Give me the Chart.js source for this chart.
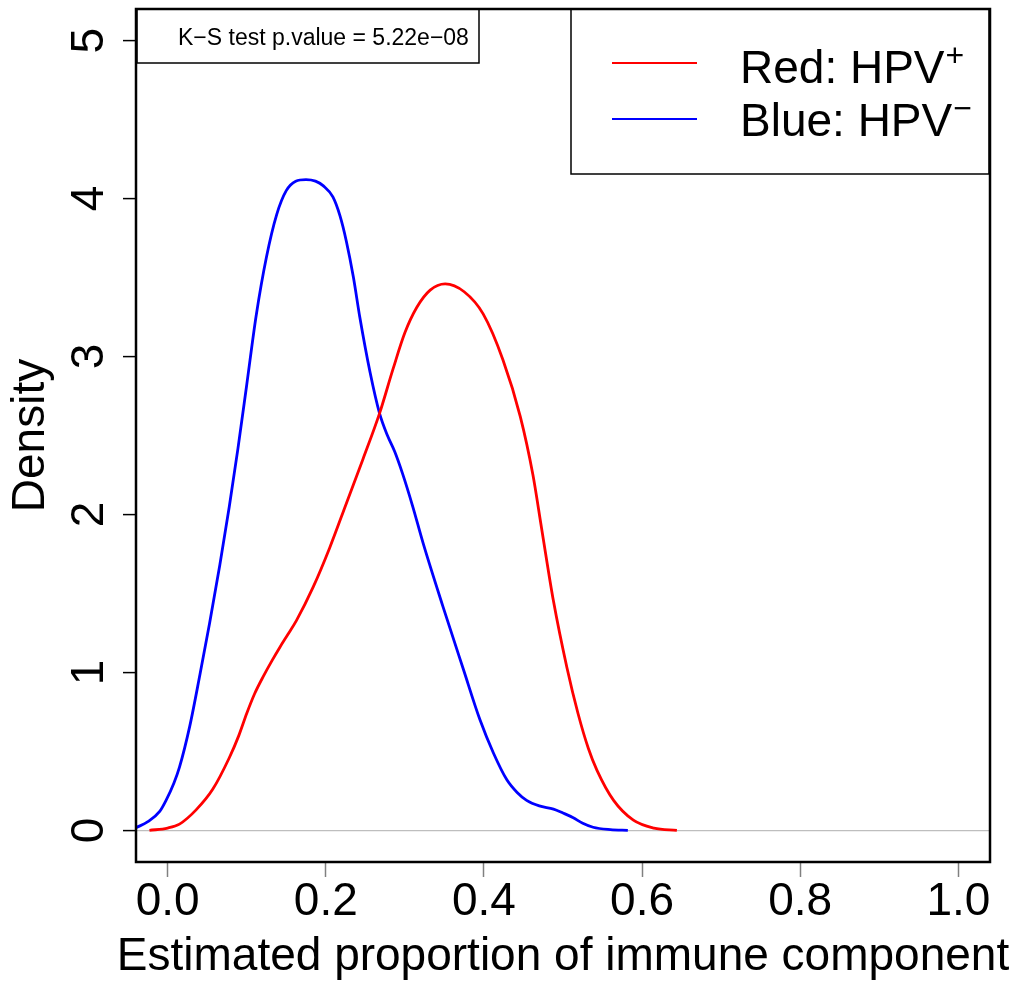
<!DOCTYPE html>
<html>
<head>
<meta charset="utf-8">
<script src="https://cdn.jsdelivr.net/npm/chart.js@4.4.1/dist/chart.umd.min.js"></script>
<style>
html, body { margin: 0; padding: 0; background: #fff; }
canvas { display: block; }
</style>
</head>
<body>
<canvas id="densityChart" width="1020" height="981"></canvas>
<script>
// --- Daten ---
const redX = [-0.023, 0.000, 0.015, 0.036, 0.057, 0.078, 0.090, 0.100, 0.110, 0.121, 0.132, 0.142, 0.152, 0.163, 0.184, 0.205, 0.226, 0.247, 0.268, 0.285, 0.300, 0.315, 0.332, 0.351, 0.375, 0.399, 0.424, 0.446, 0.462, 0.473, 0.488, 0.505, 0.519, 0.532, 0.543, 0.564, 0.589, 0.615, 0.644];
const redY = [0.00, 0.015, 0.04, 0.13, 0.26, 0.46, 0.60, 0.74, 0.865, 0.975, 1.075, 1.16, 1.24, 1.33, 1.54, 1.79, 2.07, 2.35, 2.64, 2.92, 3.15, 3.31, 3.42, 3.46, 3.41, 3.27, 2.98, 2.62, 2.25, 1.91, 1.45, 1.03, 0.74, 0.52, 0.38, 0.19, 0.065, 0.015, 0.00];

const blueX = [-0.040, -0.025, -0.010, -0.002, 0.008, 0.015, 0.028, 0.041, 0.053, 0.066, 0.078, 0.089, 0.100, 0.112, 0.125, 0.138, 0.150, 0.162, 0.175, 0.187, 0.197, 0.209, 0.218, 0.226, 0.235, 0.243, 0.256, 0.268, 0.278, 0.287, 0.297, 0.310, 0.323, 0.348, 0.374, 0.395, 0.412, 0.429, 0.442, 0.454, 0.470, 0.488, 0.500, 0.513, 0.525, 0.538, 0.560, 0.582];
const blueY = [0.017, 0.055, 0.12, 0.19, 0.30, 0.40, 0.66, 0.99, 1.31, 1.68, 2.05, 2.42, 2.82, 3.26, 3.63, 3.90, 4.05, 4.11, 4.12, 4.11, 4.08, 4.01, 3.89, 3.73, 3.50, 3.25, 2.90, 2.64, 2.50, 2.40, 2.26, 2.05, 1.82, 1.42, 1.02, 0.70, 0.49, 0.32, 0.24, 0.19, 0.155, 0.135, 0.11, 0.08, 0.045, 0.02, 0.005, 0.00];

const xTicks = [0, 0.2, 0.4, 0.6, 0.8, 1.0];
const xTickLabels = ['0.0', '0.2', '0.4', '0.6', '0.8', '1.0'];
const yTicks = [0, 1, 2, 3, 4, 5];
const yTickLabels = ['0', '1', '2', '3', '4', '5'];

const xTitle = 'Estimated proportion of immune component';
const legendNames = ['Red: HPV', 'Blue: HPV'];
const legendSups = ['+', '\u2212'];
const ksText = 'K\u2212S test p.value = 5.22e\u221208';

const FONT = '"Liberation Sans", Arial, Helvetica, sans-serif';
const RED = '#ff0000';
const BLUE = '#0000ff';

function toPoints(xs, ys) {
    return xs.map((x, i) => ({ x: x, y: ys[i] }));
}

// --- Rahmen, Beschriftungen, Legenden ---
const overlay = {
    id: 'overlay',
    afterDraw(chart) {
        const ctx = chart.ctx;
        const a = chart.chartArea;
        const ys = chart.scales.y;
        ctx.save();
        ctx.fillStyle = '#000';
        ctx.strokeStyle = '#000';

        // y tick labels, gedreht wie in R
        ctx.font = '46px ' + FONT;
        ctx.textAlign = 'center';
        ctx.textBaseline = 'alphabetic';
        yTicks.forEach((v, i) => {
            const py = ys.getPixelForValue(v);
            ctx.save();
            ctx.translate(a.left - 33, py);
            ctx.rotate(-Math.PI / 2);
            ctx.fillText(yTickLabels[i], 0, 0);
            ctx.restore();
        });

        // x-Achsentitel (breiter als die Achse, daher selbst gezeichnet)
        ctx.font = '46px ' + FONT;
        ctx.fillText(xTitle, (a.left + a.right) / 2, 970);

        // Plot-Box
        ctx.lineWidth = 2.5;
        ctx.strokeRect(a.left, a.top, a.right - a.left, a.bottom - a.top);

        // K-S Box
        ctx.lineWidth = 1.5;
        ctx.strokeRect(a.left + 1, a.top, 342, 54);
        ctx.font = '23px ' + FONT;
        ctx.textAlign = 'left';
        ctx.fillText(ksText, a.left + 42, a.top + 36);

        // Legende
        const lx = 571;
        ctx.lineWidth = 1.5;
        ctx.strokeRect(lx, a.top, a.right - lx - 1, 165);
        const lineY = [63, 119];
        const textY = [83, 136];
        chart.data.datasets.forEach((ds, i) => {
            ctx.strokeStyle = ds.borderColor;
            ctx.lineWidth = 2;
            ctx.beginPath();
            ctx.moveTo(612, lineY[i]);
            ctx.lineTo(697, lineY[i]);
            ctx.stroke();
            ctx.font = '46px ' + FONT;
            ctx.fillText(legendNames[i], 740, textY[i]);
            const w = ctx.measureText(legendNames[i]).width;
            ctx.font = '32px ' + FONT;
            ctx.fillText(legendSups[i], 740 + w + 1, textY[i] - 17);
        });
        ctx.restore();
    }
};

const chart = new Chart(document.getElementById('densityChart'), {
    type: 'scatter',
    data: {
        datasets: [
            { label: 'HPV+', data: toPoints(redX, redY), borderColor: RED, backgroundColor: RED, showLine: true, pointRadius: 0, borderWidth: 2.8, cubicInterpolationMode: 'monotone' },
            { label: 'HPV-', data: toPoints(blueX, blueY), borderColor: BLUE, backgroundColor: BLUE, showLine: true, pointRadius: 0, borderWidth: 2.8, cubicInterpolationMode: 'monotone' }
        ]
    },
    options: {
        responsive: false,
        animation: false,
        layout: { padding: { top: 9, right: 30, left: 0, bottom: 0 } },
        plugins: {
            legend: { display: false },
            tooltip: { enabled: false }
        },
        scales: {
            x: {
                type: 'linear',
                min: -0.04,
                max: 1.04,
                afterBuildTicks: s => { s.ticks = xTicks.map(v => ({ value: v })); },
                afterFit: s => { s.height = 119; },
                ticks: {
                    autoSkip: false, maxRotation: 0, minRotation: 0,
                    color: '#000', padding: 2,
                    font: { family: FONT, size: 46, lineHeight: 1 },
                    callback: (v, i) => xTickLabels[i]
                },
                grid: { drawOnChartArea: false, drawTicks: true, tickLength: 15, tickColor: '#808080', tickWidth: 1.5 },
                border: { display: false },
                title: { display: false }
            },
            y: {
                type: 'linear',
                min: -0.2,
                max: 5.2,
                afterBuildTicks: s => { s.ticks = yTicks.map(v => ({ value: v })); },
                afterFit: s => { s.width = 136; },
                ticks: { display: false },
                grid: {
                    drawOnChartArea: true,
                    color: c => (c.tick && c.tick.value === 0) ? '#bebebe' : 'rgba(0,0,0,0)',
                    lineWidth: 1.2,
                    tickLength: 13,
                    tickColor: '#000',
                    tickWidth: 1.5
                },
                border: { display: false },
                title: {
                    display: true,
                    text: 'Density',
                    color: '#000',
                    font: { family: FONT, size: 46, lineHeight: 1.2 },
                    padding: { top: 4, bottom: 0 }
                }
            }
        }
    },
    plugins: [overlay]
});
</script>
</body>
</html>
